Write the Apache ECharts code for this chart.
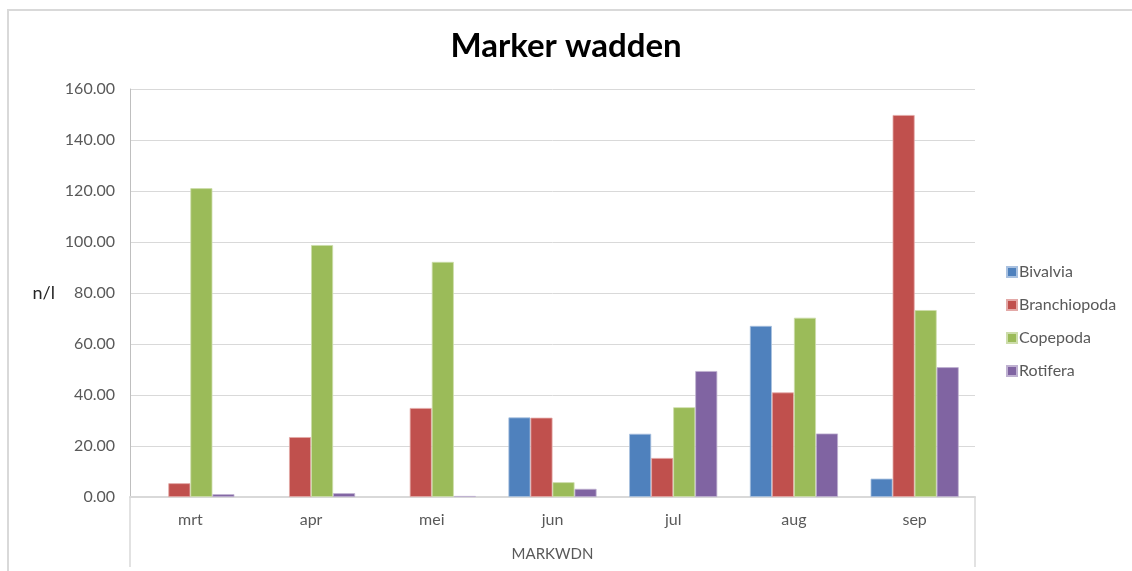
<!DOCTYPE html>
<html>
<head>
<meta charset="utf-8">
<script src="https://cdn.jsdelivr.net/npm/echarts@6/dist/echarts.min.js"></script>
<style>
html,body{margin:0;padding:0;background:#fff;}
#frame{position:absolute;left:7px;top:9px;width:1140px;height:580px;border:2px solid #d9d9d9;box-sizing:border-box;}
#chart{position:absolute;left:0;top:0;width:1132px;height:571px;}
</style>
</head>
<body>
<div id="frame"></div>
<div id="chart"></div>
<script>
const categories = ['mrt', 'apr', 'mei', 'jun', 'jul', 'aug', 'sep'];
const seriesNames = ['Bivalvia', 'Branchiopoda', 'Copepoda', 'Rotifera'];
const bivalvia     = [0, 0, 0, 31.2, 24.8, 67.1, 7.2];
const branchiopoda = [5.4, 23.5, 34.9, 31.1, 15.3, 41.0, 149.8];
const copepoda     = [121.1, 98.8, 92.2, 5.8, 35.2, 70.3, 73.3];
const rotifera     = [1.1, 1.5, 0.4, 3.2, 49.4, 24.9, 50.9];
const groupLabel = ['MARKWDN'];
const colors = ['#4F81BD', '#C0504D', '#9BBB59', '#8064A2'];
const borders = ['#A9C1E0', '#E3A9A7', '#CDDDAB', '#BFB1D1'];
const allValues = [bivalvia, branchiopoda, copepoda, rotifera];

const FONT = 'Lato';
const chart = echarts.init(document.getElementById('chart'), null, {renderer: 'canvas'});
chart.setOption({
  animation: false,
  backgroundColor: 'transparent',
  title: {
    text: 'Marker wadden',
    left: 'center',
    top: 25,
    textStyle: {fontFamily: FONT, fontWeight: 'bold', fontSize: 33, color: '#000'}
  },
  legend: {
    orient: 'vertical',
    left: 1001,
    top: 259,
    itemWidth: 10,
    itemHeight: 10,
    itemGap: 17,
    icon: 'rect',
    data: seriesNames,
    textStyle: {fontFamily: FONT, fontSize: 16, color: '#595959', padding: [0, 0, 0, -3]}
  },
  grid: {left: 130, right: 157, top: 89, bottom: 74, containLabel: false},
  xAxis: [{
    type: 'category',
    data: categories,
    axisLine: {show: true, lineStyle: {color: '#d9d9d9', width: 2}},
    axisTick: {show: false},
    axisLabel: {fontFamily: FONT, fontSize: 16, color: '#595959', margin: 15}
  }, {
    type: 'category',
    data: groupLabel,
    position: 'bottom',
    axisLine: {show: false},
    axisTick: {show: true, length: 70, lineStyle: {color: '#d9d9d9', width: 1.5}},
    axisLabel: {fontFamily: FONT, fontSize: 15, color: '#595959', margin: 50},
    splitLine: {show: false}
  }],
  yAxis: {
    type: 'value',
    min: 0,
    max: 160,
    interval: 20,
    name: 'n/l',
    nameLocation: 'middle',
    nameRotate: 0,
    nameGap: 75,
    nameTextStyle: {fontFamily: FONT, fontSize: 18, color: '#262626'},
    axisLine: {show: true, lineStyle: {color: '#bfbfbf', width: 1}},
    axisTick: {show: false},
    axisLabel: {fontFamily: FONT, fontSize: 16, color: '#595959', margin: 15, formatter: v => v.toFixed(2)},
    splitLine: {lineStyle: {color: '#d9d9d9', width: 1}}
  },
  series: seriesNames.map((n, i) => ({
    name: n,
    type: 'bar',
    data: allValues[i].map(v => v === 0 ? {value: 0, itemStyle: {borderWidth: 0}} : v),
    barGap: '0%',
    barCategoryGap: '27%',
    itemStyle: {color: colors[i], borderColor: borders[i], borderWidth: 0.8}
  }))
});
</script>
</body>
</html>
